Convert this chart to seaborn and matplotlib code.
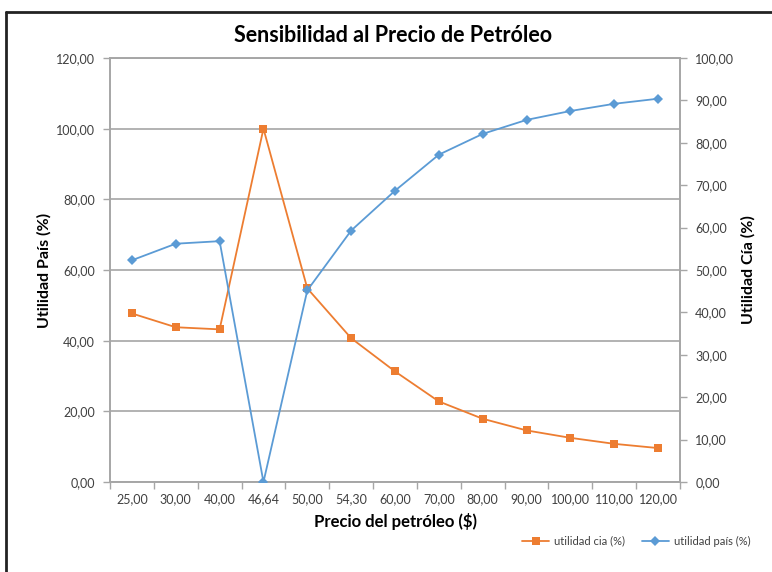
import matplotlib
matplotlib.use("Agg")
import matplotlib.pyplot as plt
from matplotlib.lines import Line2D
from matplotlib.ticker import FixedLocator, FuncFormatter
import pandas as pd
import seaborn as sns

# Oil price scenarios (category labels) and profit shares
precios = ["25,00", "30,00", "40,00", "46,64", "50,00", "54,30", "60,00",
           "70,00", "80,00", "90,00", "100,00", "110,00", "120,00"]
utilidad_cia = [47.7, 43.8, 43.2, 100.0, 54.8, 40.7, 31.3,
                22.8, 17.9, 14.6, 12.5, 10.8, 9.6]
utilidad_pais = [52.3, 56.2, 56.8, 0.0, 45.2, 59.3, 68.7,
                 77.2, 82.1, 85.4, 87.5, 89.2, 90.4]

sns.set_theme(style="white")
plt.rcParams["font.family"] = ["Lato", "DejaVu Sans"]

naranja = "#ED7D31"
azul = "#5B9BD5"
gris = "#A6A6A6"
texto = "#404040"

df = pd.DataFrame({"precio": precios, "cia": utilidad_cia, "pais": utilidad_pais})
df["pos"] = range(len(precios))

fig = plt.figure(figsize=(7.72, 5.72), dpi=100)
ax = fig.add_axes([110 / 772, 1 - 482 / 572, 570 / 772, 424 / 572])
ax2 = ax.twinx()

sns.lineplot(data=df, x="pos", y="cia", ax=ax, color=naranja, marker="s",
             markersize=6, markeredgewidth=0, linewidth=1.3, zorder=3)
sns.lineplot(data=df, x="pos", y="pais", ax=ax2, color=azul, marker="D",
             markersize=5, markeredgewidth=0, linewidth=1.3, zorder=3)

n = len(precios)
ax.set_xlim(-0.5, n - 0.5)
ax.set_ylim(0, 120)
ax2.set_ylim(0, 100)

# category axis: tick marks between categories, labels centred
ax.xaxis.set_major_locator(FixedLocator([i - 0.5 for i in range(n + 1)]))
ax.xaxis.set_major_formatter(FuncFormatter(lambda v, p: ""))
ax.set_xticks(list(range(n)), labels=precios, minor=True)
ax.tick_params(axis="x", which="major", direction="out", length=5,
               color=gris, width=1, bottom=True)
ax.tick_params(axis="x", which="minor", length=0, pad=8,
               labelsize=9, labelcolor=texto)

fmt = FuncFormatter(lambda v, p: f"{v:.2f}".replace(".", ","))
ax.set_yticks(range(0, 121, 20))
ax.yaxis.set_major_formatter(fmt)
ax2.set_yticks(range(0, 101, 10))
ax2.yaxis.set_major_formatter(fmt)
ax.tick_params(axis="y", direction="out", length=5, color=gris, width=1,
               left=True, labelsize=9, labelcolor=texto, pad=6)
ax2.tick_params(axis="y", direction="out", length=5, color=gris, width=1,
                right=True, labelsize=9, labelcolor=texto, pad=6)

ax.grid(axis="y", color=gris, linewidth=1.2)
ax.set_axisbelow(True)
for a in (ax, ax2):
    for s in a.spines.values():
        s.set_color(gris)
        s.set_linewidth(1.2)

ax.set_xlabel("Precio del petróleo ($)", fontsize=12, fontweight="bold",
              color="black", labelpad=6)
ax.set_ylabel("Utilidad País (%)", fontsize=11.5, fontweight="bold",
              color="black", labelpad=3)
ax2.set_ylabel("Utilidad Cía (%)", fontsize=11.5, fontweight="bold",
               color="black", labelpad=5)

fig.text(393 / 772, 1 - 35 / 572, "Sensibilidad al Precio de Petróleo",
         ha="center", va="center", fontsize=15.5, fontweight="bold", color="black")

handles = [
    Line2D([], [], color=naranja, marker="s", markersize=6, markeredgewidth=0, linewidth=1.3),
    Line2D([], [], color=azul, marker="D", markersize=5, markeredgewidth=0, linewidth=1.3),
]
fig.legend(handles, ["utilidad cia (%)", "utilidad país (%)"], loc="center",
           bbox_to_anchor=(636 / 772, 1 - 541 / 572), ncol=2, frameon=False,
           fontsize=8, labelcolor=texto, handlelength=2.5, columnspacing=1.5,
           handletextpad=0.4)
if ax.get_legend():
    ax.get_legend().remove()
if ax2.get_legend():
    ax2.get_legend().remove()

# outer chart frame
fig.add_artist(Line2D([6 / 772, 6 / 772], [0, 1 - 12 / 572], color="#222222",
                      linewidth=2, transform=fig.transFigure))
fig.add_artist(Line2D([6 / 772, 1], [1 - 12 / 572, 1 - 12 / 572], color="#222222",
                      linewidth=2, transform=fig.transFigure))

fig.savefig("out.png", dpi=100)
